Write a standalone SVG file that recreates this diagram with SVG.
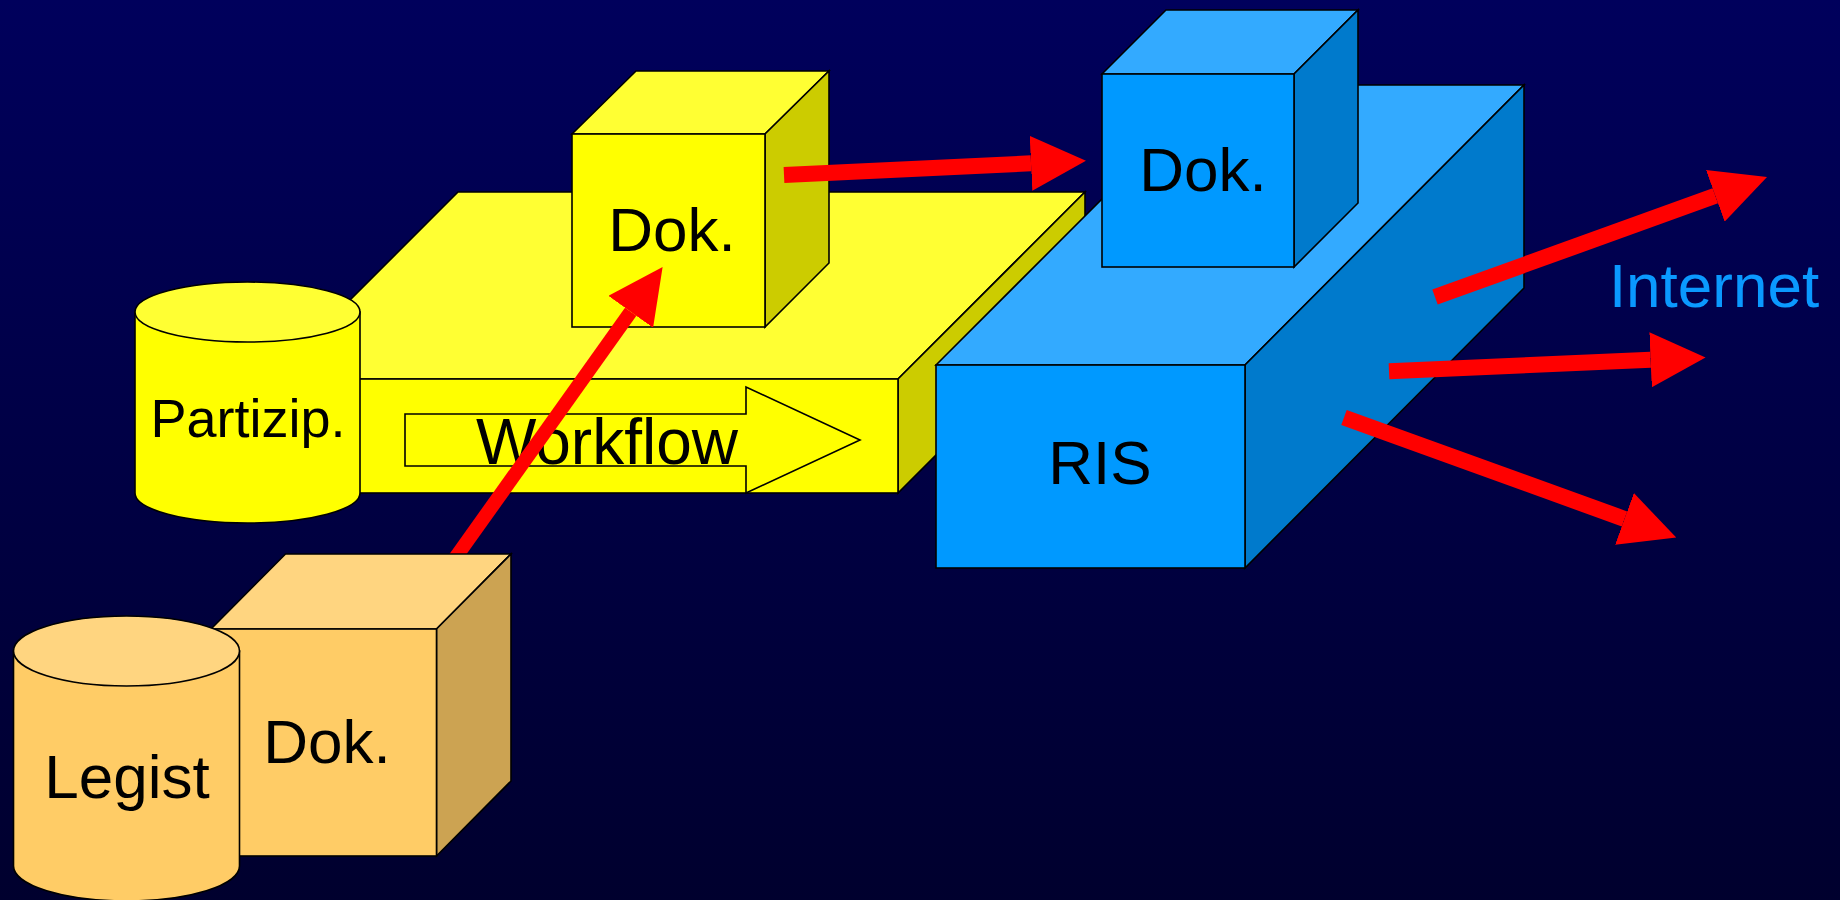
<svg xmlns="http://www.w3.org/2000/svg" width="1840" height="900" viewBox="0 0 1840 900">
<defs>
<linearGradient id="bg" x1="0" y1="0" x2="0" y2="1">
<stop offset="0" stop-color="#00005C"/>
<stop offset="1" stop-color="#00002E"/>
</linearGradient>
<marker id="head" markerUnits="userSpaceOnUse" viewBox="0 0 55 55" markerWidth="55" markerHeight="55" refX="0" refY="27.5" orient="auto">
<path d="M0,0 L55,27.5 L0,55 Z" fill="#FF0000"/>
</marker>
</defs>
<style>
.o{stroke:#000;stroke-width:1.6;stroke-linejoin:miter}
.yf{fill:#FFFF00}.yt{fill:#FFFF33}.ys{fill:#CCCC00}
.bf{fill:#0099FF}.bt{fill:#33AAFF}.bs{fill:#007ACC}
.of{fill:#FFCC66}.ot{fill:#FFD580}.os{fill:#CCA352}
.t{font-family:"Liberation Sans",Arial,sans-serif;font-size:62px;fill:#000;text-anchor:middle}
.c{stroke:#FF0000;stroke-width:16;fill:none;marker-end:url(#head)}
</style>
<rect width="1840" height="900" fill="url(#bg)"/>

<g id="workflow-platform">
<polygon class="o yt" points="271,379 458,192 1085,192 898,379"/>
<polygon class="o ys" points="898,379 1085,192 1085,306 898,493"/>
<rect class="o yf" x="271" y="379" width="627" height="114"/>
</g>

<g id="dok-yellow">
<polygon class="o yt" points="572,134 636,71 829,71 765,134"/>
<polygon class="o ys" points="765,134 829,71 829,263 765,327"/>
<rect class="o yf" x="572" y="134" width="193" height="193"/>
<text class="t" x="672" y="251">Dok.</text>
</g>

<g id="partizip">
<path class="o yf" d="M135,312 L135,493 A112.5,30 0 0 0 360,493 L360,312 Z"/>
<ellipse class="o yt" cx="247.5" cy="312" rx="112.5" ry="30"/>
<text class="t" x="248" y="437" style="font-size:54px">Partizip.</text>
</g>

<g id="workflow">
<polygon class="o yf" points="405,414 746,414 746,387 860,440 746,493 746,466 405,466"/>
<text class="t" x="607" y="464" style="font-size:64px">Workflow</text>
</g>

<g id="ris">
<polygon class="o bt" points="936,365 1216,85 1524,85 1245,365"/>
<polygon class="o bs" points="1245,365 1524,85 1524,288 1245,568"/>
<rect class="o bf" x="936" y="365" width="309" height="203"/>
<text class="t" x="1100" y="484">RIS</text>
</g>

<g id="dok-blue">
<polygon class="o bt" points="1102,74 1166,10 1358,10 1294,74"/>
<polygon class="o bs" points="1294,74 1358,10 1358,203 1294,267"/>
<rect class="o bf" x="1102" y="74" width="192" height="193"/>
<text class="t" x="1203" y="191">Dok.</text>
</g>

<g id="internet">
<text class="t" x="1714" y="307" style="fill:#0A99FF">Internet</text>
</g>

<g id="connectors">
<line class="c" x1="784" y1="175" x2="1031" y2="163.3"/>
<line class="c" x1="454.5" y1="559" x2="630.7" y2="311.8" style="stroke-width:14"/>
<line class="c" x1="1435" y1="297" x2="1715.3" y2="195.8"/>
<line class="c" x1="1389" y1="371.2" x2="1650.6" y2="359.8"/>
<line class="c" x1="1344" y1="417.5" x2="1624.5" y2="518.9"/>
</g>

<g id="dok-orange">
<polygon class="o ot" points="211,629 285.5,554 511,554 436.5,629"/>
<polygon class="o os" points="436.5,629 511,554 511,781 436.5,856"/>
<rect class="o of" x="211" y="629" width="225.5" height="227"/>
<text class="t" x="327" y="763">Dok.</text>
</g>

<g id="legist">
<path class="o of" d="M13.5,651 L13.5,866 A113,35 0 0 0 239.5,866 L239.5,651 Z"/>
<ellipse class="o ot" cx="126.5" cy="651" rx="113" ry="35"/>
<text class="t" x="127" y="798">Legist</text>
</g>
</svg>
